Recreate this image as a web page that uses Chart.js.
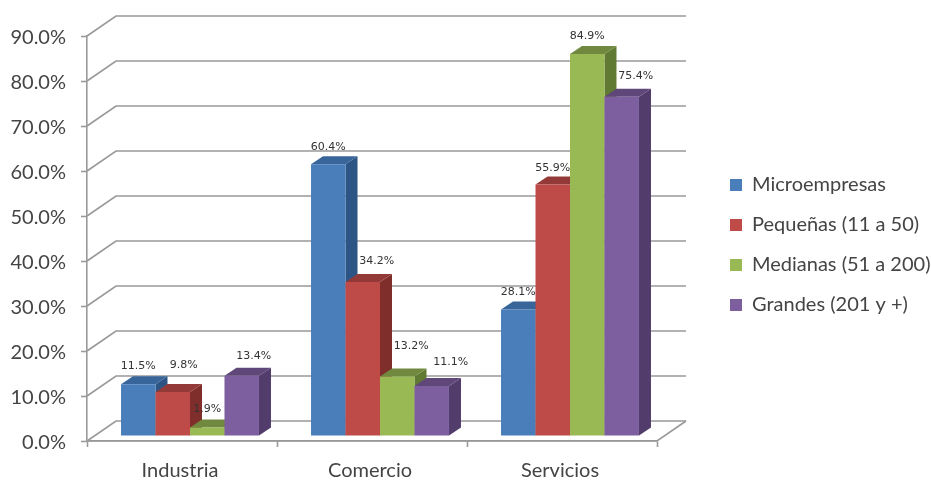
<!DOCTYPE html>
<html>
<head>
  <meta charset="utf-8">
  <title>Empresas por sector</title>
  <script src="https://cdn.jsdelivr.net/npm/chart.js"></script>
  <style>
    body { margin: 0; background: white; }
    canvas { display: block; filter: blur(0.5px); }
  </style>
</head>
<body>
  <canvas id="sectorChart" width="931" height="480"></canvas>

  <script>
    const categories = ['Industria', 'Comercio', 'Servicios'];
    const seriesNames = ['Microempresas', 'Pequeñas (11 a 50)', 'Medianas (51 a 200)', 'Grandes (201 y +)'];
    const microempresas = [11.5, 60.4, 28.1];
    const pequenas = [9.8, 34.2, 55.9];
    const medianas = [1.9, 13.2, 84.9];
    const grandes = [13.4, 11.1, 75.4];

    const frontColors = ['#4a7ebb', '#be4b48', '#98b954', '#7d5fa0'];
    const topColors   = ['#38659a', '#933a38', '#71893f', '#5f4879'];
    const sideColors  = ['#2c5484', '#7f2e2c', '#617a33', '#513c6c'];

    // label nudges off the top of each bar [dx, dy], per series then category
    const labelNudge = [
      [[0, -18], [0, -17], [0, -17]],
      [[11, -27], [14, -21], [0, -16]],
      [[0, -18], [14, -30], [0, -18]],
      [[12, -20], [19, -24], [14, -21]]
    ];

    // walls of the fake 3d box and depth of the bars
    const wallX = 29, wallY = 20;
    const planeX = 8, planeY = 5;
    const barX = 12, barY = 8;

    const box3d = {
      id: 'box3d',
      afterLayout(chart) {
        // legend sits clear of the plot, its clip box has to move with it
        const legend = chart.legend;
        legend.left = 710;
        legend.right = 931;
        legend.top = 155;
        legend.bottom = 480;
      },
      beforeDatasetsDraw(chart) {
        const { ctx, chartArea: a, scales: { y } } = chart;
        ctx.save();
        ctx.strokeStyle = '#999';
        ctx.lineWidth = 1.6;
        y.ticks.forEach(t => {
          const py = y.getPixelForValue(t.value);
          ctx.beginPath();
          ctx.moveTo(a.left, py);
          ctx.lineTo(a.left + wallX, py - wallY);
          ctx.lineTo(a.right + wallX, py - wallY);
          ctx.stroke();
        });
        const floor = y.getPixelForValue(0);
        ctx.beginPath();
        ctx.moveTo(a.left, floor);
        ctx.lineTo(a.right, floor);
        ctx.lineTo(a.right + wallX, floor - wallY);
        ctx.stroke();
        ctx.restore();

        // bars go left to right so each front covers the side of the one before it
        ctx.save();
        ctx.translate(planeX, -planeY);
        chart.data.datasets.forEach((ds, i) => {
          const meta = chart.getDatasetMeta(i);
          meta.data.forEach(bar => {
            const x1 = bar.x + bar.width / 2;
            const x0 = bar.x - bar.width / 2;
            ctx.fillStyle = sideColors[i];
            ctx.beginPath();
            ctx.moveTo(x1, bar.y);
            ctx.lineTo(x1 + barX, bar.y - barY);
            ctx.lineTo(x1 + barX, bar.base - barY);
            ctx.lineTo(x1, bar.base);
            ctx.fill();
            ctx.fillStyle = topColors[i];
            ctx.beginPath();
            ctx.moveTo(x0, bar.y);
            ctx.lineTo(x0 + barX, bar.y - barY);
            ctx.lineTo(x1 + barX, bar.y - barY);
            ctx.lineTo(x1, bar.y);
            ctx.fill();
          });
          meta.controller.draw();
        });
        ctx.restore();

        ctx.save();
        ctx.font = '11px "DejaVu Sans"';
        ctx.fillStyle = '#333';
        ctx.textAlign = 'center';
        ctx.textBaseline = 'middle';
        chart.data.datasets.forEach((ds, i) => {
          chart.getDatasetMeta(i).data.forEach((bar, j) => {
            const n = labelNudge[i][j];
            ctx.fillText(ds.data[j].toFixed(1) + '%', bar.x + planeX + n[0], bar.y - planeY + n[1]);
          });
        });
        ctx.restore();
        return false;
      }
    };

    const values = [microempresas, pequenas, medianas, grandes];

    new Chart(document.getElementById('sectorChart'), {
      type: 'bar',
      data: {
        labels: categories,
        datasets: seriesNames.map((name, i) => ({
          label: name,
          data: values[i],
          backgroundColor: frontColors[i],
          borderWidth: 0
        }))
      },
      options: {
        responsive: false,
        animation: false,
        layout: { padding: { top: 36, right: 274 } },
        categoryPercentage: 0.726,
        barPercentage: 1,
        plugins: {
          tooltip: { enabled: false },
          legend: {
            position: 'chartArea',
            align: 'start',
            labels: {
              boxWidth: 12,
              boxHeight: 12,
              padding: 20,
              color: '#444',
              font: { family: 'Lato', size: 20 }
            }
          }
        },
        scales: {
          x: {
            afterFit(s) { s.height = 39; },
            border: { color: '#999', width: 1.6 },
            grid: { drawOnChartArea: false, tickLength: 6, tickColor: '#999', tickWidth: 1.6 },
            ticks: { color: '#444', padding: 12, labelOffset: -2, font: { family: 'Lato', size: 20 } }
          },
          y: {
            min: 0,
            max: 90,
            afterFit(s) { s.width = 87; },
            border: { color: '#999', width: 1.6 },
            grid: { drawOnChartArea: false, tickLength: 6, tickColor: '#999', tickWidth: 1.6 },
            ticks: {
              stepSize: 10,
              color: '#444',
              padding: 15,
              labelOffset: 2,
              font: { family: 'Lato', size: 20 },
              callback: v => v.toFixed(1) + '%'
            }
          }
        }
      },
      plugins: [box3d]
    });
  </script>
</body>
</html>
